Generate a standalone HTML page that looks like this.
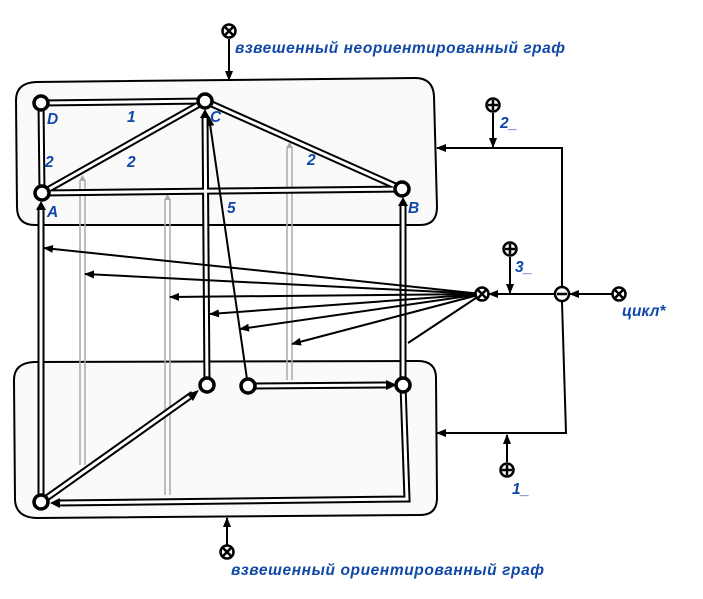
<!DOCTYPE html>
<html><head><meta charset="utf-8"><style>body{margin:0;background:#fff}svg{display:block}text{font-family:"Liberation Sans",sans-serif;font-weight:bold;font-style:italic;fill:#1048a8;font-size:15.5px}</style></head><body>
<svg width="703" height="599" viewBox="0 0 703 599" xmlns="http://www.w3.org/2000/svg">
<defs><marker id="a" markerWidth="10" markerHeight="8" refX="9" refY="4" orient="auto" markerUnits="userSpaceOnUse"><path d="M0,0L10,4L0,8z" fill="#000"/></marker></defs>
<path d="M36,82 L415,78 Q433,78 434,96 L437,207 Q437,225 420,225 L35,225 Q17,225 17,207 L16,100 Q16,83 36,82Z" fill="#fafafa" stroke="#000" stroke-width="2"/>
<path d="M34,362 L418,361 Q436,361 436,378 L437,498 Q437,515 420,515 L38,518 Q16,518 15,500 L14,380 Q14,363 34,362Z" fill="#fafafa" stroke="#000" stroke-width="2"/>
<g stroke="#aaa" fill="none" stroke-width="1.5"><path d="M80,465V180M85,465V180"/><path d="M165,495V199M170,495V199"/><path d="M287,380V147M292,380V147"/></g>
<g fill="#aaa"><path d="M79,181L82.5,175L86,181z"/><path d="M164,200L167.5,194L171,200z"/><path d="M286,148L289.5,142L293,148z"/></g>
<g fill="none" stroke-linecap="butt">
<g stroke="#000" stroke-width="7"><path d="M41,103L205,101M41,103L42,193M42,193L205,101M205,101L402,189M42,193L402,189M41,502L41,207M207,385L205,115M403,385L403,203M41,502L193,394M248,386L388,385M403,385L407,499L57,503"/></g>
<g stroke="#fff" stroke-width="3"><path d="M41,103L205,101M41,103L42,193M42,193L205,101M205,101L402,189M42,193L402,189M41,502L41,207M207,385L205,115M403,385L403,203M41,502L193,394M248,386L388,385M403,385L407,499L57,503"/></g>
</g>
<g fill="#000"><path d="M36,210L41,201L46,210z"/><path d="M200,118L205,109L210,118z"/><path d="M398,206L403,197L408,206z"/><path d="M187,394L199,390L193,401z"/><path d="M386,380L397,385L386,390z"/><path d="M60,498L50,503L60,508z"/></g>
<g stroke="#000" stroke-width="2" fill="none">
<path d="M248,386L209,117" marker-end="url(#a)"/>
<path d="M482,294L44,248" marker-end="url(#a)"/>
<path d="M482,294L85,274" marker-end="url(#a)"/>
<path d="M482,294L170,297" marker-end="url(#a)"/>
<path d="M482,294L210,314" marker-end="url(#a)"/>
<path d="M482,294L240,329" marker-end="url(#a)"/>
<path d="M482,294L292,344" marker-end="url(#a)"/>
<path d="M482,294L408,343"/>
<path d="M554,294L489,294" marker-end="url(#a)"/>
<path d="M612,294L570,294" marker-end="url(#a)"/>
<path d="M510,257V293" marker-end="url(#a)"/>
<path d="M562,286V148H437" marker-end="url(#a)"/>
<path d="M493,113V147" marker-end="url(#a)"/>
<path d="M562,302L566,433H437" marker-end="url(#a)"/>
<path d="M507,462V435" marker-end="url(#a)"/>
<path d="M229,39V80" marker-end="url(#a)"/>
<path d="M227,545V518" marker-end="url(#a)"/>
</g>
<g fill="#fff" stroke="#000" stroke-width="3.5">
<circle cx="41" cy="103" r="7"/><circle cx="205" cy="101" r="7"/><circle cx="42" cy="193" r="7"/><circle cx="402" cy="189" r="7"/>
<circle cx="207" cy="385" r="7"/><circle cx="248" cy="386" r="7"/><circle cx="403" cy="385" r="7"/><circle cx="41" cy="502" r="7"/>
</g>
<g fill="#fff" stroke="#000" stroke-width="2.5">
<circle cx="229" cy="31" r="6.5"/><path d="M225,27L233,35M233,27L225,35"/>
<circle cx="227" cy="552" r="6.5"/><path d="M223,548L231,556M231,548L223,556"/>
<circle cx="482" cy="294" r="6.5"/><path d="M478,290L486,298M486,290L478,298"/>
<circle cx="619" cy="294" r="6.5"/><path d="M615,290L623,298M623,290L615,298"/>
<circle cx="562" cy="294" r="7"/><path d="M557,294H567"/>
<circle cx="493" cy="105" r="6.5"/><path d="M488,105H498M493,100V110"/>
<circle cx="510" cy="249" r="6.5"/><path d="M505,249H515M510,244V254"/>
<circle cx="507" cy="470" r="6.5"/><path d="M502,470H512M507,465V475"/>
</g>
<text x="235" y="53" textLength="330">взвешенный неориентированный граф</text>
<text x="231" y="575" textLength="313">взвешенный ориентированный граф</text>
<text x="622" y="316">цикл*</text>
<text x="500" y="128">2_</text><text x="515" y="272">3_</text><text x="512" y="494">1_</text>
<text x="47" y="124">D</text><text x="210" y="122">C</text><text x="47" y="217">A</text><text x="408" y="213">B</text>
<text x="127" y="122">1</text><text x="45" y="167">2</text><text x="127" y="167">2</text><text x="307" y="165">2</text><text x="227" y="213">5</text>
</svg>
</body></html>
